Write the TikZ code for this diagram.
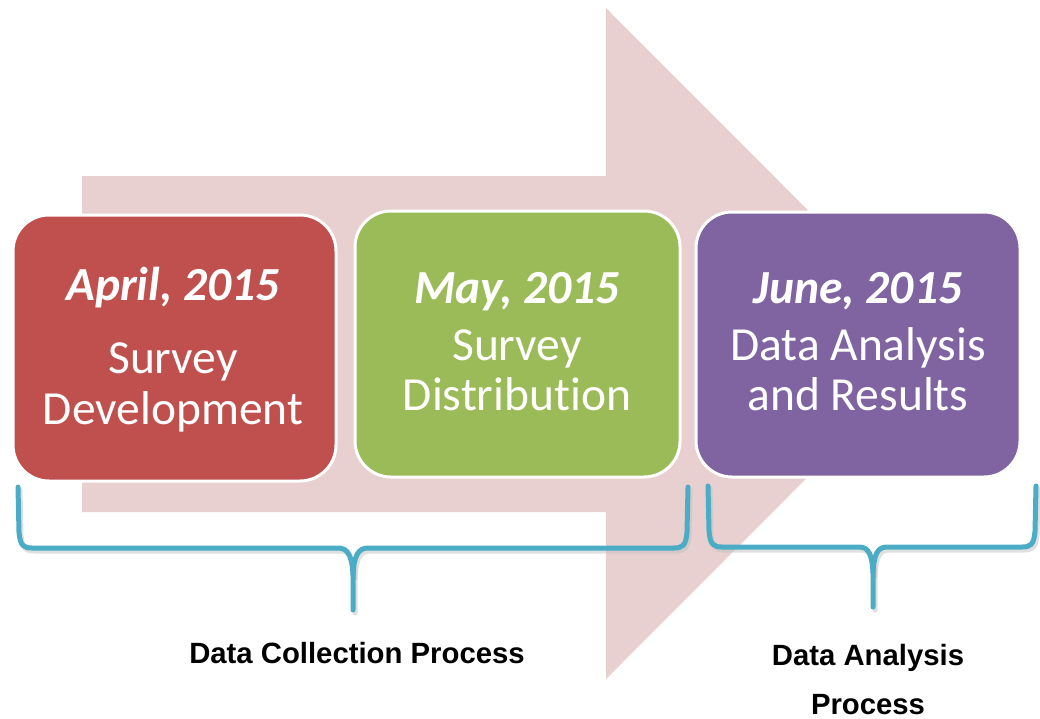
\documentclass[tikz,border=0pt]{standalone}
\usepackage{fontspec}
\setmainfont[RawFeature={-liga}]{Carlito}
\newfontfamily\labelfont{Liberation Sans}
\definecolor{arrowpink}{HTML}{E8D0D1}
\definecolor{boxred}{HTML}{C0504D}
\definecolor{boxgreen}{HTML}{9BBB59}
\definecolor{boxpurple}{HTML}{8064A2}
\definecolor{bracecol}{HTML}{4BACC6}
\tikzset{
  stagebox/.style={draw=white, line width=3pt, rounded corners=36pt},
  datetext/.style={anchor=base, text=white, font=\fontsize{47.5}{50}\selectfont\bfseries\itshape},
  bodytext/.style={anchor=base, text=white, font=\fontsize{47.5}{50}\selectfont},
  bracestyle/.style={draw=bracecol, line width=5pt, line cap=round, line join=round},
  braceshadow/.style={draw=black!25, line width=5pt, line cap=round, line join=round, opacity=0.5},
  proclabel/.style={anchor=base, font=\labelfont\fontsize{29.3}{30}\selectfont\bfseries}
}
\begin{document}
\begin{tikzpicture}[x=1pt,y=-1pt]
\useasboundingbox (0,0) rectangle (1040,718);
% big background arrow
\fill[arrowpink] (82,176) -- (606,176) -- (606,8) -- (941,343.5) -- (606,679) -- (606,512) -- (82,512) -- cycle;
% boxes
\filldraw[stagebox, fill=boxred] (13,215) rectangle (336,481);
\filldraw[stagebox, fill=boxgreen] (355,211) rectangle (680,477);
\filldraw[stagebox, fill=boxpurple] (696,212) rectangle (1020,477);
% texts
\node[datetext] (d1) at (173,300) {April, 2015};
\node[bodytext] (s1a) at (173,373) {Survey};
\node[bodytext] (s1b) at (173,424) {Development};
\node[datetext] (d2) at (517,303) {May, 2015};
\node[bodytext] (s2a) at (517,360) {Survey};
\node[bodytext] (s2b) at (517,410) {Distribution};
\node[datetext] (d3) at (858,303) {June, 2015};
\node[bodytext] (s3a) at (858,360) {Data Analysis};
\node[bodytext] (s3b) at (858,410) {and Results};
% braces shadows
\begin{scope}[shift={(2,3)}]
\draw[braceshadow] (18,487) -- (19,532) .. controls (20,546) and (24,548) .. (32,548) -- (338,548) .. controls (348,548) and (352,556) .. (353,575) -- (353,610);
\draw[braceshadow] (353,575) .. controls (354,556) and (358,548) .. (368,548) -- (674,548) .. controls (682,548) and (686,546) .. (687,532) -- (688,487);
\draw[braceshadow] (708,486) -- (709,531) .. controls (710,545) and (714,547) .. (722,547) -- (859,547) .. controls (869,547) and (872,555) .. (873,573) -- (873,607);
\draw[braceshadow] (873,573) .. controls (874,555) and (877,547) .. (887,547) -- (1022,547) .. controls (1030,547) and (1034,545) .. (1035,531) -- (1036,486);
\end{scope}
% braces
\draw[bracestyle] (18,487) -- (19,532) .. controls (20,546) and (24,548) .. (32,548) -- (338,548) .. controls (348,548) and (352,556) .. (353,575) -- (353,610);
\draw[bracestyle] (353,575) .. controls (354,556) and (358,548) .. (368,548) -- (674,548) .. controls (682,548) and (686,546) .. (687,532) -- (688,487);
\draw[bracestyle] (708,486) -- (709,531) .. controls (710,545) and (714,547) .. (722,547) -- (859,547) .. controls (869,547) and (872,555) .. (873,573) -- (873,607);
\draw[bracestyle] (873,573) .. controls (874,555) and (877,547) .. (887,547) -- (1022,547) .. controls (1030,547) and (1034,545) .. (1035,531) -- (1036,486);
% labels
\node[proclabel] (l1) at (357,663) {Data Collection Process};
\node[proclabel] (l2a) at (868,665) {Data Analysis};
\node[proclabel] (l2b) at (868,714) {Process};
\end{tikzpicture}
\end{document}
